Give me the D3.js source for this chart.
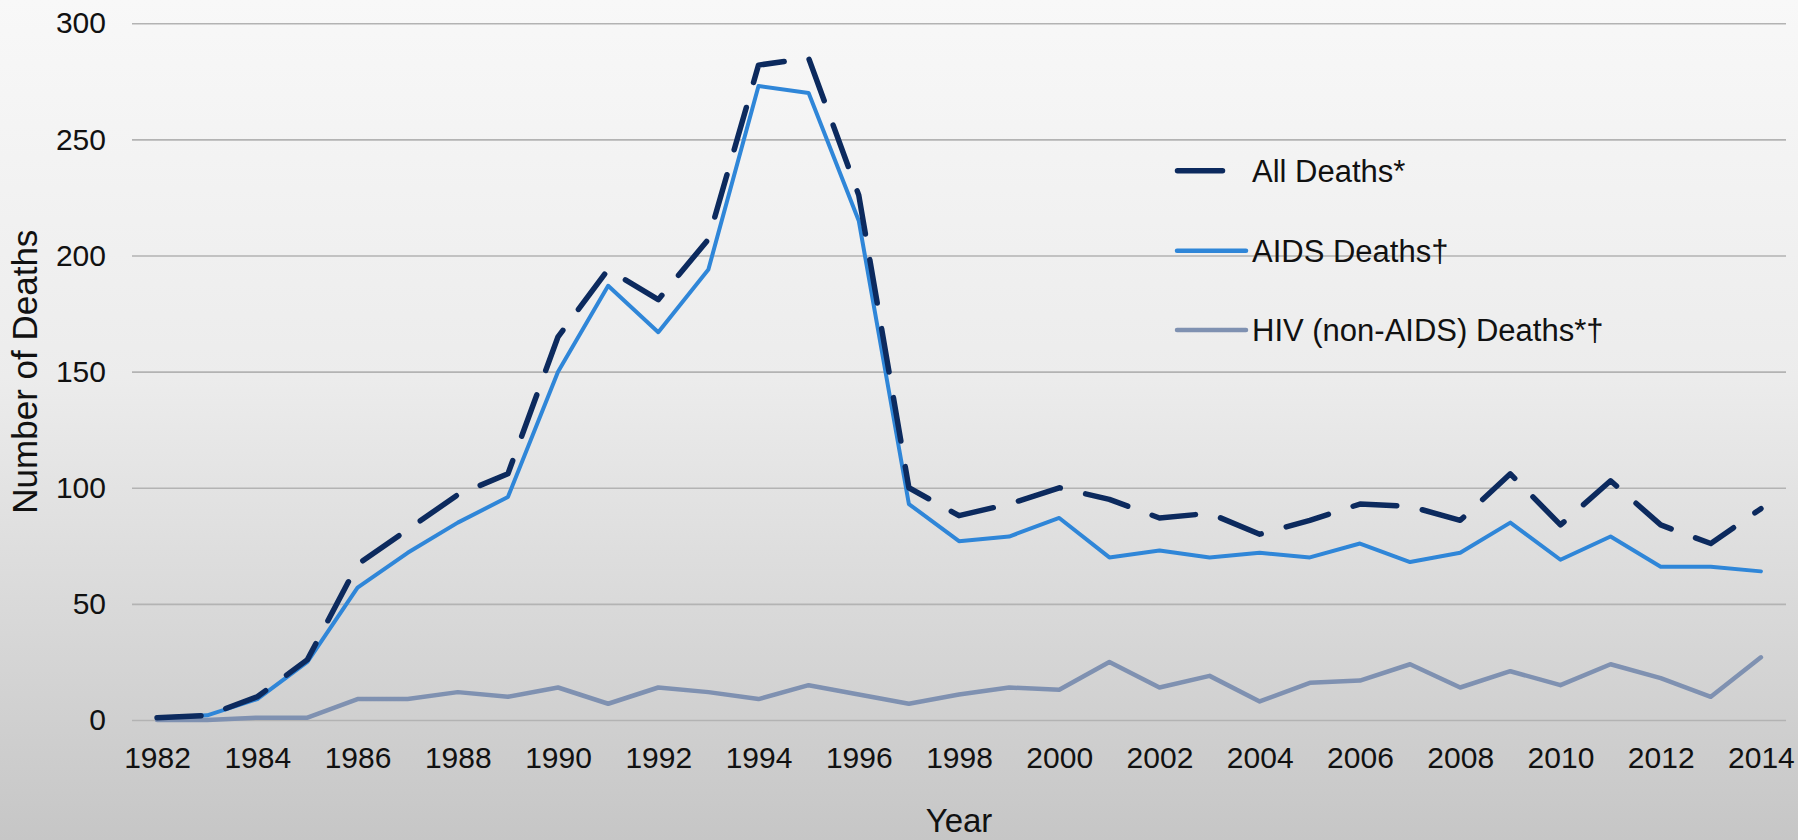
<!DOCTYPE html>
<html>
<head>
<meta charset="utf-8">
<script src="https://cdn.jsdelivr.net/npm/d3@7/dist/d3.min.js"></script>
<style>
  html, body { margin: 0; padding: 0; }
  body { width: 1798px; height: 840px; overflow: hidden; }
  svg { display: block; font-family: "Liberation Sans", Arial, sans-serif; }
</style>
</head>
<body>
<svg id="chart" width="1798" height="840"></svg>
<script>
// Deaths among people with HIV, by year of death
const years = d3.range(1982, 2015);
const allDeaths  = [1, 2, 10, 26, 67, 82, 97, 106, 165, 194, 181, 207, 282, 285, 226, 100, 88, 93, 100, 95, 87, 89, 80, 86, 93, 92, 86, 106, 84, 103, 84, 76, 91];
const aidsDeaths = [1, 2, 9, 25, 57, 72, 85, 96, 150, 187, 167, 194, 273, 270, 215, 93, 77, 79, 87, 70, 73, 70, 72, 70, 76, 68, 72, 85, 69, 79, 66, 66, 64];
const hivDeaths  = [0, 0, 1, 1, 9, 9, 12, 10, 14, 7, 14, 12, 9, 15, 11, 7, 11, 14, 13, 25, 14, 19, 8, 16, 17, 24, 14, 21, 15, 24, 18, 10, 27];
const xTickYears = d3.range(1982, 2015, 2);
const yTicks = [0, 50, 100, 150, 200, 250, 300];
const seriesNames = ["All Deaths*", "AIDS Deaths\u2020", "HIV (non-AIDS) Deaths*\u2020"];

const svg = d3.select("#chart");
const W = 1798, H = 840;
const plot = { left: 132, right: 1786, top: 23.3, bottom: 720 };

// background wash
const defs = svg.append("defs");
const grad = defs.append("linearGradient").attr("id", "bg").attr("x1", 0).attr("y1", 0).attr("x2", 0).attr("y2", 1);
grad.append("stop").attr("offset", "0").attr("stop-color", "#f8f8f8");
grad.append("stop").attr("offset", "0.45").attr("stop-color", "#ececec");
grad.append("stop").attr("offset", "1").attr("stop-color", "#c6c6c6");
svg.append("rect").attr("width", W).attr("height", H).attr("fill", "url(#bg)");

const x = d3.scalePoint().domain(years).range([plot.left, plot.right]).padding(0.5);
const y = d3.scaleLinear().domain([0, 300]).range([plot.bottom, plot.top]);

// horizontal gridlines + value labels
const yAxis = svg.append("g")
  .attr("transform", `translate(${plot.left},0)`)
  .call(d3.axisLeft(y).tickValues(yTicks).tickSize(-(plot.right - plot.left)).tickPadding(26));
yAxis.select(".domain").remove();
yAxis.selectAll(".tick line").attr("stroke", "#b3b3b3").attr("stroke-width", 1.6);
yAxis.selectAll(".tick text").attr("fill", "#111").style("font-size", "30px")
  .style("font-family", "'Liberation Sans', Arial, sans-serif");

// year labels
const xAxis = svg.append("g")
  .attr("transform", `translate(0,${plot.bottom})`)
  .call(d3.axisBottom(x).tickValues(xTickYears).tickSize(0).tickPadding(27));
xAxis.select(".domain").remove();
xAxis.selectAll(".tick text").attr("fill", "#111").style("font-size", "30px")
  .style("font-family", "'Liberation Sans', Arial, sans-serif");

// axis titles
svg.append("text")
  .attr("transform", `translate(37,${(plot.top + plot.bottom) / 2}) rotate(-90)`)
  .attr("text-anchor", "middle")
  .attr("fill", "#111")
  .style("font-size", "35px")
  .text("Number of Deaths");
svg.append("text")
  .attr("x", (plot.left + plot.right) / 2)
  .attr("y", 832)
  .attr("text-anchor", "middle")
  .attr("fill", "#111")
  .style("font-size", "33px")
  .text("Year");

// series
const series = [
  { name: seriesNames[2], values: hivDeaths,  color: "#7f91b1", width: 4.5, dash: null },
  { name: seriesNames[1], values: aidsDeaths, color: "#2f86d8", width: 4,   dash: null },
  { name: seriesNames[0], values: allDeaths,  color: "#0c2a5e", width: 5.5, dash: "44,26" }
];

const line = d3.line()
  .x((d, i) => x(years[i]))
  .y(d => y(d));

series.forEach(s => {
  svg.append("path")
    .datum(s.values)
    .attr("d", line)
    .attr("fill", "none")
    .attr("stroke", s.color)
    .attr("stroke-width", s.width)
    .attr("stroke-linejoin", "round")
    .attr("stroke-linecap", "round")
    .attr("stroke-dasharray", s.dash);
});

// legend
const legendItems = [
  { name: seriesNames[0], color: "#0c2a5e", width: 5.5, y: 170.7, x1: 1177.5, x2: 1222.5 },
  { name: seriesNames[1], color: "#2f86d8", width: 4.5, y: 250.7, x1: 1177, x2: 1246 },
  { name: seriesNames[2], color: "#7f91b1", width: 4.5, y: 330, x1: 1177, x2: 1246 }
];
const legend = svg.append("g");
legendItems.forEach(it => {
  legend.append("line")
    .attr("x1", it.x1).attr("x2", it.x2)
    .attr("y1", it.y).attr("y2", it.y)
    .attr("stroke", it.color)
    .attr("stroke-width", it.width)
    .attr("stroke-linecap", "round");
  legend.append("text")
    .attr("x", 1252)
    .attr("y", it.y)
    .attr("dy", "0.35em")
    .attr("fill", "#111")
    .style("font-size", "31px")
    .text(it.name);
});
</script>
</body>
</html>
